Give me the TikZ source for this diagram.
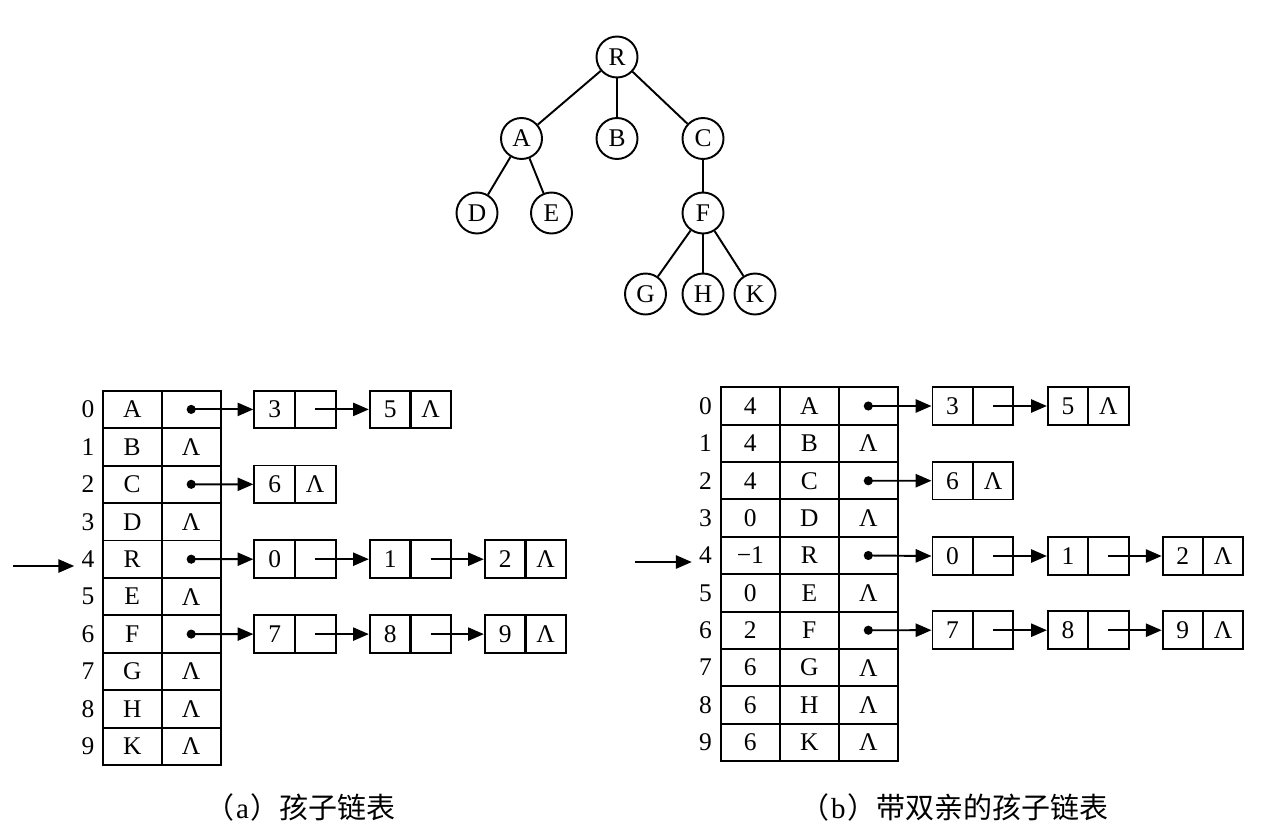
\documentclass[tikz,border=0pt]{standalone}
\usepackage{fontspec}
\setmainfont{Liberation Serif}
\newfontfamily\cjk{Noto Sans CJK SC}
\usetikzlibrary{arrows.meta}
\newcommand\mkLnode[6]{% style, name, x start, y, data, ptr
  \node[#1] (#2d) at ({#3+20.3},#4) {#5};
  \node[#1] (#2p) at ({#3+60.7},#4) {#6};}
\begin{document}
\begin{tikzpicture}[x=0.02cm,y=-0.02cm,
  every node/.style={font=\fontsize{14.5}{17}\selectfont},
  tn/.style={draw,circle,minimum size=0.82cm,inner sep=0pt,line width=1.1pt},
  tedge/.style={line width=1.1pt},
  cellL/.style={draw,line width=1.1pt,minimum width=1.18cm,minimum height=0.749cm,inner sep=0pt},
  cellR/.style={draw,line width=1.1pt,minimum width=1.18cm,minimum height=0.7474cm,inner sep=0pt},
  lcL/.style={draw,line width=1.1pt,minimum width=0.82cm,minimum height=0.752cm,inner sep=0pt},
  lcR/.style={draw,line width=1.1pt,minimum width=0.806cm,minimum height=0.752cm,inner sep=0pt},
  idx/.style={inner sep=0pt},
  arr/.style={line width=1.1pt,-{Triangle[length=9pt,width=7.5pt]}},
  captext/.style={font=\fontsize{16.5}{19}\selectfont,inner sep=0pt,anchor=west}
]
\useasboundingbox (0,0) rectangle (1263,828);

% ---------------- tree ----------------
\node[tn] (R) at (617,57) {R};
\node[tn] (A) at (521.5,138.5) {A};
\node[tn] (B) at (617,138.5) {B};
\node[tn] (C) at (703,138.5) {C};
\node[tn] (D) at (477,213) {D};
\node[tn] (E) at (551.5,213) {E};
\node[tn] (F) at (703,213) {F};
\node[tn] (G) at (645.5,294) {G};
\node[tn] (H) at (703,294) {H};
\node[tn] (K) at (755,294) {K};
\draw[tedge] (R) -- (A);
\draw[tedge] (R) -- (B);
\draw[tedge] (R) -- (C);
\draw[tedge] (A) -- (D);
\draw[tedge] (A) -- (E);
\draw[tedge] (C) -- (F);
\draw[tedge] (F) -- (G);
\draw[tedge] (F) -- (H);
\draw[tedge] (F) -- (K);

% ---------------- (a) child list ----------------
\foreach \d/\p [count=\i from 0] in {A/{},B/Λ,C/{},D/Λ,R/{},E/Λ,F/{},G/Λ,H/Λ,K/Λ} {
  \node[cellL] (ld\i) at (132.2,{409.4+37.45*\i}) {\d};
  \node[cellL] (lp\i) at (191.2,{409.4+37.45*\i}) {\p};
  \node[idx] (li\i) at (88,{409.4+37.45*\i}) {\i};
}
\coordinate (inL) at (13,566);
\draw[arr,shorten >=4pt] (inL) -- (inL -| li4.west);

\mkLnode{lcL}{LA}{254.5}{409.4}{3}{}
\mkLnode{lcL}{LB}{370}{409.4}{5}{Λ}
\mkLnode{lcL}{LC}{254.5}{484.3}{6}{Λ}
\mkLnode{lcL}{LD}{254.5}{559.2}{0}{}
\mkLnode{lcL}{LE}{370}{559.2}{1}{}
\mkLnode{lcL}{LF}{485}{559.2}{2}{Λ}
\mkLnode{lcL}{LG}{254.5}{634.1}{7}{}
\mkLnode{lcL}{LH}{370}{634.1}{8}{}
\mkLnode{lcL}{LI}{485}{634.1}{9}{Λ}

\foreach \r/\t in {0/LAd,2/LCd,4/LDd,6/LGd} {
  \fill (lp\r.center) circle[radius=2.6pt];
  \draw[arr] (lp\r.center) -- (\t.west);
}
\draw[arr] (LAp.center) -- (LBd.west);
\draw[arr] (LDp.center) -- (LEd.west);
\draw[arr] (LEp.center) -- (LFd.west);
\draw[arr] (LGp.center) -- (LHd.west);
\draw[arr] (LHp.center) -- (LId.west);

\node[captext] (capa) at (205,807) {{\cjk （}\hspace{1pt}a\hspace{1pt}{\cjk ）孩子链表}};

% ---------------- (b) child list with parent ----------------
\foreach \q/\d/\p [count=\i from 0] in {4/A/{},4/B/Λ,4/C/{},0/D/Λ,−1/R/{},0/E/Λ,2/F/{},6/G/Λ,6/H/Λ,6/K/Λ} {
  \node[cellR] (rq\i) at (750.3,{406+37.37*\i}) {\q};
  \node[cellR] (rd\i) at (809.3,{406+37.37*\i}) {\d};
  \node[cellR] (rp\i) at (868.3,{406+37.37*\i}) {\p};
  \node[idx] (ri\i) at (705.5,{406+37.37*\i}) {\i};
}
\coordinate (inR) at (635,562);
\draw[arr,shorten >=4pt] (inR) -- (inR -| ri4.west);

\mkLnode{lcR}{RA}{932.3}{406}{3}{}
\mkLnode{lcR}{RB}{1047.7}{406}{5}{Λ}
\mkLnode{lcR}{RC}{932.3}{480.7}{6}{Λ}
\mkLnode{lcR}{RD}{932.3}{556}{0}{}
\mkLnode{lcR}{RE}{1047.7}{556}{1}{}
\mkLnode{lcR}{RF}{1162.5}{556}{2}{Λ}
\mkLnode{lcR}{RG}{932.3}{630.2}{7}{}
\mkLnode{lcR}{RH}{1047.7}{630.2}{8}{}
\mkLnode{lcR}{RI}{1162.5}{630.2}{9}{Λ}

\foreach \r/\t in {0/RAd,2/RCd,4/RDd,6/RGd} {
  \fill (rp\r.center) circle[radius=2.6pt];
  \draw[arr] (rp\r.center) -- (\t.west);
}
\draw[arr] (RAp.center) -- (RBd.west);
\draw[arr] (RDp.center) -- (REd.west);
\draw[arr] (REp.center) -- (RFd.west);
\draw[arr] (RGp.center) -- (RHd.west);
\draw[arr] (RHp.center) -- (RId.west);

\node[captext] (capb) at (800,807) {{\cjk （}\hspace{1pt}b\hspace{1pt}{\cjk ）带双亲的孩子链表}};
\end{tikzpicture}
\end{document}
